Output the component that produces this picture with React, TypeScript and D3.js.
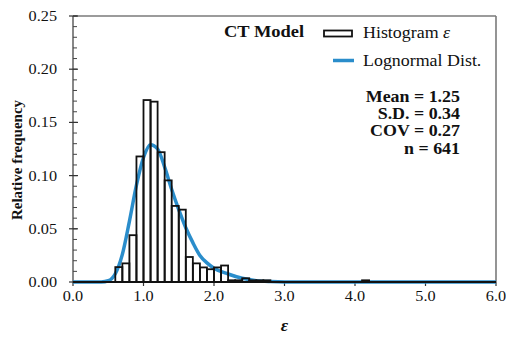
import React from "react";
import * as d3 from "d3";

// Histogram bins (lower edge, relative frequency), bin width 0.1
const binStarts = [0.6, 0.7, 0.8, 0.9, 1.0, 1.1, 1.2, 1.3, 1.4, 1.5, 1.6, 1.7, 1.8, 1.9, 2.0, 2.1, 2.2, 2.3, 2.4, 2.5, 2.6, 2.7, 4.1];
const binFreq = [0.014, 0.0175, 0.044, 0.118, 0.171, 0.1695, 0.122, 0.0955, 0.0715, 0.068, 0.0235, 0.0175, 0.0137, 0.012, 0.0137, 0.0155, 0.0016, 0.0016, 0.0035, 0.0016, 0.0016, 0.0016, 0.0016];
const binWidth = 0.1;

// Lognormal fit curve
const curveX = [0, 0.3, 0.4, 0.5, 0.6, 0.7, 0.8, 0.9, 1.0, 1.1, 1.2, 1.3, 1.4, 1.5, 1.6, 1.7, 1.8, 1.9, 2.0, 2.2, 2.4, 2.6, 2.8, 3.0, 6.0];
const curveY = [0, 0, 0.0001, 0.0012, 0.0078, 0.026, 0.057, 0.091, 0.117, 0.129, 0.125, 0.108, 0.087, 0.068, 0.051, 0.037, 0.025, 0.018, 0.013, 0.0075, 0.0035, 0.0013, 0.0004, 0, 0];

const xTicks = [0, 1, 2, 3, 4, 5, 6];
const yTicks = [0, 0.05, 0.1, 0.15, 0.2, 0.25];
const yMinor = d3.range(0, 0.2501, 0.01);

const statLabels = ["Mean = 1.25", "S.D. = 0.34", "COV = 0.27", "n = 641"];

const W = 506, H = 341;
const L = 73, R = 496, T = 16, B = 282;

const SX = 1.12; // horizontal stretch of the reference text

function SText(props: { x: number; y: number; anchor?: string; size: number; weight?: string; style?: string; children: React.ReactNode }) {
  const { x, y, anchor = "start", size, weight = "normal", style = "normal", children } = props;
  return (
    <text
      transform={`translate(${x},${y}) scale(${SX},1)`}
      textAnchor={anchor}
      fontSize={size}
      fontWeight={weight}
      fontStyle={style}
      fontFamily="'Liberation Serif', 'Times New Roman', serif"
      fill="#111"
    >
      {children}
    </text>
  );
}

export default function App() {
  const x = d3.scaleLinear().domain([0, 6]).range([L, R]);
  const y = d3.scaleLinear().domain([0, 0.25]).range([B, T]);
  const line = d3
    .line<number>()
    .x((_, i) => x(curveX[i]))
    .y((d) => y(d))
    .curve(d3.curveMonotoneX);
  const curvePath = line(curveY) || "";
  const blue = "#2a8dcb";
  const frame = "#7a7a7a";

  return (
    <svg width={W} height={H} style={{ position: "absolute", left: 0, top: 0 }} xmlns="http://www.w3.org/2000/svg">
      <rect width={W} height={H} fill="#fff" />
      {/* frame */}
      <line x1={L} x2={R} y1={T} y2={T} stroke={frame} strokeWidth={1.6} />
      <line x1={R} x2={R} y1={T} y2={B} stroke={frame} strokeWidth={1.6} />
      <line x1={L} x2={L} y1={T} y2={B} stroke="#555" strokeWidth={1.4} />
      {/* y ticks */}
      {yMinor.map((v, i) => (
        <line key={"ym" + i} x1={L} x2={L + 4} y1={y(v)} y2={y(v)} stroke="#444" strokeWidth={1} />
      ))}
      {yTicks.map((v, i) => (
        <g key={"yt" + i}>
          <line x1={L - 4} x2={L + 5} y1={y(v)} y2={y(v)} stroke="#333" strokeWidth={1.2} />
          <SText x={L - 16} y={y(v) + 5} anchor="end" size={14.5}>
            {v.toFixed(2)}
          </SText>
        </g>
      ))}
      {/* x ticks */}
      {xTicks.map((v, i) => (
        <g key={"xt" + i}>
          <line x1={x(v)} x2={x(v)} y1={B} y2={B + 4} stroke="#333" strokeWidth={1.2} />
          <SText x={x(v)} y={B + 19} anchor="middle" size={14.5}>
            {v.toFixed(1)}
          </SText>
        </g>
      ))}
      {/* lognormal curve */}
      <path d={curvePath} fill="none" stroke={blue} strokeWidth={3.5} />
      {/* histogram bars */}
      {binStarts.map((s, i) => (
        <rect
          key={"b" + i}
          x={x(s)}
          y={y(binFreq[i])}
          width={x(s + binWidth) - x(s)}
          height={y(0) - y(binFreq[i])}
          fill="none"
          stroke="#111"
          strokeWidth={1.8}
        />
      ))}
      <line x1={x(0)} x2={x(6)} y1={y(0)} y2={y(0)} stroke="#111" strokeWidth={2} />
      {/* axis titles */}
      <SText x={(L + R) / 2} y={331} anchor="middle" size={16} weight="bold" style="italic">
        ε
      </SText>
      <text
        transform={`translate(22,160) rotate(-90)`}
        textAnchor="middle"
        fontSize={15}
        fontWeight="bold"
        fontFamily="'Liberation Serif', 'Times New Roman', serif"
        fill="#111"
      >
        Relative frequency
      </text>
      {/* legend */}
      <SText x={224} y={37} size={16.5} weight="bold">CT Model</SText>
      <rect x={324} y={30.5} width={28} height={6} fill="#fff" stroke="#111" strokeWidth={1.8} />
      <SText x={363} y={38} size={16}>
        Histogram <tspan fontStyle="italic">ε</tspan>
      </SText>
      <line x1={333} x2={354} y1={60.5} y2={60.5} stroke={blue} strokeWidth={3.5} />
      <SText x={363} y={66} size={16}>Lognormal  Dist.</SText>
      {statLabels.map((s, i) => (
        <SText key={"s" + i} x={460} y={102 + i * 17.2} anchor="end" size={16} weight="bold">
          {s}
        </SText>
      ))}
    </svg>
  );
}
